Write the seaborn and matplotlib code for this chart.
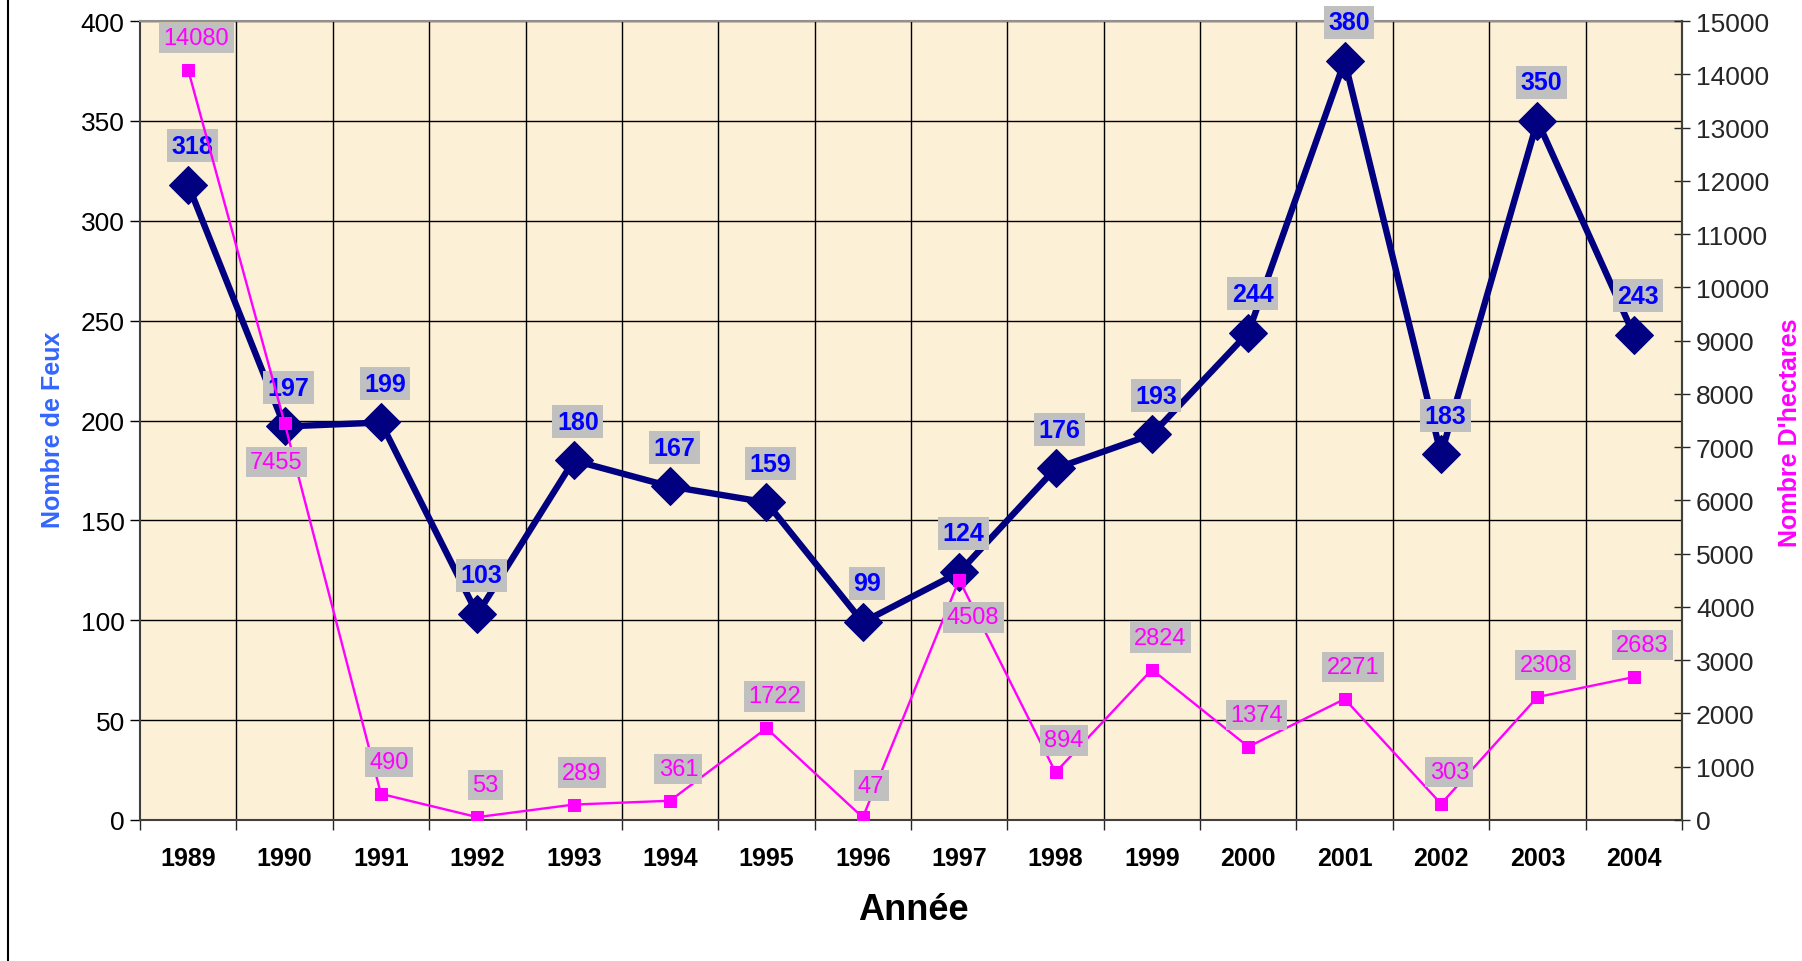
import matplotlib
matplotlib.use("Agg")
import matplotlib.pyplot as plt
import matplotlib.lines as mlines
import seaborn as sns
import pandas as pd

years = ["1989", "1990", "1991", "1992", "1993", "1994", "1995", "1996",
         "1997", "1998", "1999", "2000", "2001", "2002", "2003", "2004"]
feux = [318, 197, 199, 103, 180, 167, 159, 99, 124, 176, 193, 244, 380, 183, 350, 243]
hectares = [14080, 7455, 490, 53, 289, 361, 1722, 47, 4508, 894, 2824, 1374, 2271, 303, 2308, 2683]

# hectare labels that sit below their marker instead of above
below = {"1990": (-6, -28), "1997": (10, -27)}

sns.set_theme(style="white")
plt.rcParams["font.family"] = ["Liberation Sans", "DejaVu Sans"]

df = pd.DataFrame({"x": range(len(years)), "feux": feux, "hectares": hectares})

fig = plt.figure(figsize=(18.02, 9.62), dpi=100)
ax = fig.add_axes([0.0777, 0.1466, 0.9334 - 0.0777, 0.9771 - 0.1466])
ax2 = ax.twinx()

ax.set_facecolor("#FCF0D6")
ax.set_zorder(0)
ax2.set_zorder(1)
ax2.patch.set_visible(False)

# grid: horizontal at left major ticks, vertical at category boundaries
for v in range(50, 401, 50):
    ax.axhline(v, color="black", lw=1.0, zorder=1)
for b in range(1, len(years)):
    ax.axvline(b - 0.5, color="black", lw=1.0, zorder=1)

sns.lineplot(data=df, x="x", y="feux", ax=ax, color="#000080", lw=4.6,
             marker="D", markersize=19, markeredgecolor="#000080", zorder=3)
sns.lineplot(data=df, x="x", y="hectares", ax=ax2, color="#FF00FF", lw=1.7,
             marker="s", markersize=9, markeredgecolor="#FF00FF", zorder=3)

ax.set_xlim(-0.5, len(years) - 0.5)
ax.set_ylim(0, 400)
ax2.set_ylim(0, 15000)
ax.set_yticks(range(0, 401, 50))
ax2.set_yticks(range(0, 15001, 1000))
ax.set_xticks([i - 0.5 for i in range(len(years) + 1)])
ax.set_xticklabels([])
for i, y in enumerate(years):
    ax.text(i, -0.033, y, transform=ax.get_xaxis_transform(), ha="center",
            va="top", fontsize=18, fontweight="bold", color="black")

ax.tick_params(axis="y", direction="out", length=7, width=1, labelsize=19,
               pad=4, left=True, colors="black")
ax.tick_params(axis="x", direction="out", length=7, width=1, bottom=True)
ax2.tick_params(axis="y", direction="inout", length=12, width=1, labelsize=19,
                pad=4, right=True)

for sp in ["left", "bottom", "right"]:
    ax.spines[sp].set_color("#404040")
    ax.spines[sp].set_linewidth(1.5)
ax.spines["top"].set_color("#909090")
ax.spines["top"].set_linewidth(1.5)
for sp in ax2.spines.values():
    sp.set_visible(False)
ax2.spines["right"].set_visible(True)
ax2.spines["right"].set_color("#404040")
ax2.spines["right"].set_linewidth(1.5)

ax.set_xlabel("")
ax.set_ylabel("")
ax2.set_ylabel("")

fig.text(0.507, 0.054, "Année", ha="center", va="center", fontsize=26,
         fontweight="bold", color="black")
fig.text(0.0294, 0.553, "Nombre de Feux", rotation=90, ha="center", va="center",
         fontsize=18, fontweight="bold", color="#3366FF")
fig.text(0.9935, 0.55, "Nombre D'hectares", rotation=90, ha="center", va="center",
         fontsize=18, fontweight="bold", color="#FF00FF")

box = dict(boxstyle="square,pad=0.18", fc="#C0C0C0", ec="none")
for i, v in enumerate(feux):
    ax.annotate(str(v), (i, v), xytext=(3, 28), textcoords="offset points",
                ha="center", va="center", fontsize=18, fontweight="bold",
                color="#0000FF", bbox=box, zorder=5)
for i, v in enumerate(hectares):
    off = below.get(years[i], (6, 23))
    ax2.annotate(str(v), (i, v), xytext=off, textcoords="offset points",
                 ha="center", va="center", fontsize=17, color="#FF00FF",
                 bbox=box, zorder=5)

fig.add_artist(mlines.Line2D([0.0045, 0.0045], [0, 1], color="black", lw=1.5,
                             transform=fig.transFigure))

fig.savefig("out.png", dpi=100, facecolor="white")
